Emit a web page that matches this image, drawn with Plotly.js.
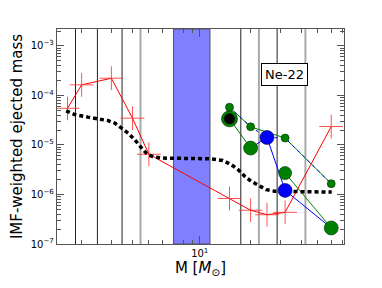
<!DOCTYPE html>
<html>
<head>
<meta charset="utf-8">
<script src="https://cdn.plot.ly/plotly-3.0.1.min.js"></script>
<style>html,body{margin:0;padding:0;background:#fff;}#chart{width:382px;height:288px;}</style>
</head>
<body>
<div id="chart"></div>
<script>
// ---- data ----
// red line with + markers
const redMass  = [1.65, 2, 3, 4, 5, 15, 20, 25, 32, 60];
const redYield = [5.5e-5, 1.64e-4, 2.23e-4, 3.48e-5, 6.5e-6, 8.3e-7, 4.8e-7, 3.9e-7, 4.36e-7, 2.36e-5];

// thick black dotted line (IMF-weighted reference curve)
const imfMass  = [1.62, 1.82, 2.18, 2.5, 2.86, 3.14, 3.44, 3.77, 4.13, 4.42, 4.62, 4.94, 5.42, 6.07, 11.5, 13.7, 15.4, 16.9, 18.5, 20.2, 22.6, 24.8, 27.8, 60.4];
const imfYield = [4.9e-5, 4.12e-5, 3.65e-5, 3.37e-5, 3.12e-5, 2.77e-5, 2.19e-5, 1.74e-5, 1.27e-5, 9.33e-6, 8.0e-6, 6.34e-6, 5.7e-6, 5.44e-6, 5.27e-6, 4.87e-6, 3.99e-6, 3.16e-6, 2.32e-6, 1.84e-6, 1.46e-6, 1.25e-6, 1.16e-6, 1.12e-6];

// small-marker model set (thin green line / dashed blue line)
const smallGreenMass  = [15, 20, 32, 60];
const smallGreenYield = [5.81e-5, 2.33e-5, 1.38e-5, 1.65e-6];
const smallBlueMass   = [15, 20, 25, 32, 60];
const smallBlueYield  = [5.81e-5, 2.33e-5, 1.42e-5, 1.38e-5, 1.65e-6];

// large-marker model sets
const bigGreenMassA  = [15, 20];
const bigGreenYieldA = [3.37e-5, 8.65e-6];
const bigGreenMassB  = [32, 60];
const bigGreenYieldB = [2.71e-6, 2.11e-7];
const bigBlueMass    = [20, 25, 32, 60];
const bigBlueYield   = [8.65e-6, 1.42e-5, 1.21e-6, 2.11e-7];

// marker sets
const greenDotMass  = [20, 32, 60, 15];
const greenDotYield = [8.65e-6, 2.71e-6, 2.11e-7, 3.37e-5];
const blueDotMass   = [25, 32];
const blueDotYield  = [1.42e-5, 1.21e-6];
const blackDotMass  = [15];
const blackDotYield = [3.37e-5];

// vertical marker lines and shaded mass band
const blackLineMass = [1.84, 2.48, 3.47, 17.5, 28.7];
const greyLineMass  = [4.46, 22.4, 42.2];
const bandMass      = [7.0, 11.5];

const label = 'Ne-22';
const yTickVals = [1e-7, 1e-6, 1e-5, 1e-4, 1e-3];
const yTickText = ['10<sup>\u22127</sup>', '10<sup>\u22126</sup>', '10<sup>\u22125</sup>', '10<sup>\u22124</sup>', '10<sup>\u22123</sup>'];
const xTickVals = [10];
const xTickText = ['10<sup>1</sup>'];

// ---- minor tick positions (axis config) ----
const xMinor = [];
[1, 10].forEach(d => { for (let k = 2; k <= 9; k++) xMinor.push(k * d); });
const yMinor = [];
[1e-7, 1e-6, 1e-5, 1e-4, 1e-3].forEach(d => { for (let k = 2; k <= 9; k++) yMinor.push(k * d); });

const GREEN = '#008000', BLUE = '#0000ff';

const traces = [
  {x: smallGreenMass, y: smallGreenYield, mode: 'lines', line: {color: GREEN, width: 1}, hoverinfo: 'skip'},
  {x: smallBlueMass, y: smallBlueYield, mode: 'lines', line: {color: BLUE, width: 1, dash: '3px,4px'}, hoverinfo: 'skip'},
  {x: bigGreenMassA, y: bigGreenYieldA, mode: 'lines', line: {color: GREEN, width: 1}, hoverinfo: 'skip'},
  {x: bigGreenMassB, y: bigGreenYieldB, mode: 'lines', line: {color: GREEN, width: 1}, hoverinfo: 'skip'},
  {x: bigBlueMass, y: bigBlueYield, mode: 'lines', line: {color: BLUE, width: 1}, hoverinfo: 'skip'},
  {x: redMass, y: redYield, mode: 'lines+markers', line: {color: '#ff0000', width: 1},
   marker: {symbol: 'cross-thin', size: 17, line: {color: 'rgba(255,40,40,0.8)', width: 1}}},
  {x: imfMass, y: imfYield, mode: 'lines', line: {color: '#000', width: 3.5, dash: '4px,3px'}},
  {x: smallGreenMass, y: smallGreenYield, mode: 'markers',
   marker: {color: GREEN, size: 8, opacity: 1, line: {color: '#003000', width: 0.6}}},
  {x: greenDotMass, y: greenDotYield, mode: 'markers',
   marker: {color: GREEN, size: [14, 13, 14, 16], opacity: 1, line: {color: '#003000', width: 0.6}}},
  {x: blueDotMass, y: blueDotYield, mode: 'markers',
   marker: {color: BLUE, size: 14, opacity: 1, line: {color: '#000040', width: 0.6}}},
  {x: blackDotMass, y: blackDotYield, mode: 'markers',
   marker: {color: '#000', size: 11, opacity: 1, line: {color: '#000', width: 0}}}
];

const shapes = [];
shapes.push({type: 'rect', xref: 'x', yref: 'paper', x0: bandMass[0], x1: bandMass[1], y0: 0, y1: 1,
  fillcolor: '#8080ff', line: {color: '#505070', width: 1}, layer: 'below'});
greyLineMass.forEach(m => shapes.push({type: 'line', xref: 'x', yref: 'paper', x0: m, x1: m, y0: 0, y1: 1,
  line: {color: '#a8a8a8', width: 2}, layer: 'below'}));
blackLineMass.forEach(m => shapes.push({type: 'line', xref: 'x', yref: 'paper', x0: m, x1: m, y0: 0, y1: 1,
  line: {color: '#222', width: 1}, layer: 'below'}));

const axisCommon = {
  showgrid: false, zeroline: false, showline: true, linecolor: '#555', linewidth: 1.2,
  mirror: 'ticks', ticks: 'inside', tickcolor: '#555', tickwidth: 1,
  tickfont: {family: 'DejaVu Sans', size: 10, color: '#000'}, tickmode: 'array'
};

const layout = {
  width: 382, height: 288,
  margin: {l: 57, r: 38, t: 29, b: 44},
  paper_bgcolor: '#fff', plot_bgcolor: '#fff',
  showlegend: false,
  xaxis: Object.assign({}, axisCommon, {
    type: 'log', range: [Math.log10(1.43), Math.log10(71.4)],
    tickvals: xTickVals, ticktext: xTickText, ticklen: 8,
    minor: {tickvals: xMinor, ticks: 'inside', ticklen: 4, tickcolor: '#555'},
    title: {text: 'M [<i>M</i><sub>\u2299</sub>]', font: {family: 'DejaVu Sans', size: 15, color: '#000'}, standoff: 0}
  }),
  yaxis: Object.assign({}, axisCommon, {
    type: 'log', range: [-7, -2.657],
    tickvals: yTickVals, ticktext: yTickText, ticklen: 7,
    minor: {tickvals: yMinor, ticks: 'inside', ticklen: 4, tickcolor: '#555'},
    title: {text: 'IMF-weighted ejected mass', font: {family: 'DejaVu Sans', size: 15, color: '#000'}, standoff: 4}
  }),
  shapes: shapes,
  annotations: [{
    xref: 'paper', yref: 'paper', x: 0.794, y: 0.79, xanchor: 'center', yanchor: 'middle',
    text: label, showarrow: false,
    font: {family: 'DejaVu Sans', size: 13, color: '#000'},
    bgcolor: '#fff', bordercolor: '#000', borderwidth: 1, borderpad: 3
  }]
};

Plotly.newPlot('chart', traces, layout, {staticPlot: true, displayModeBar: false});
</script>
</body>
</html>
